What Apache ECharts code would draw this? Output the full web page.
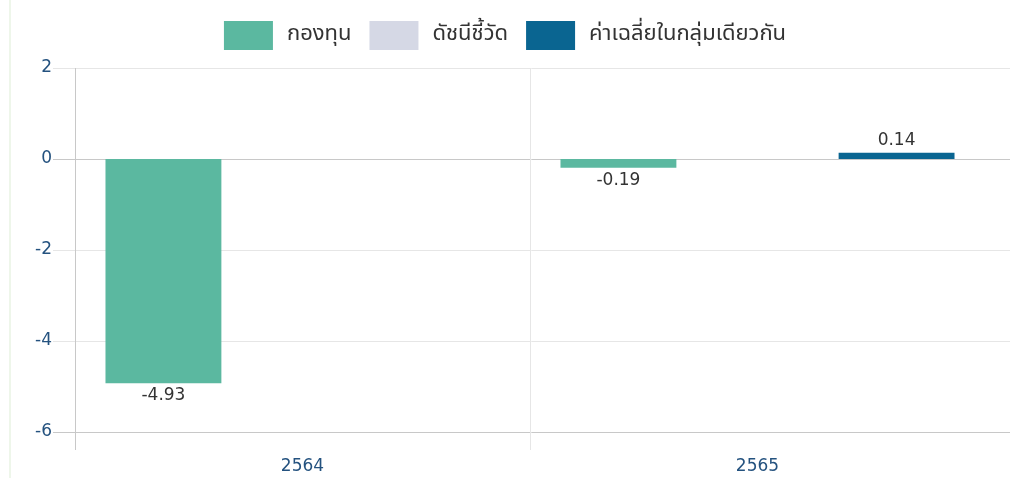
<!DOCTYPE html>
<html>
<head>
<meta charset="utf-8">
<script src="https://cdn.jsdelivr.net/npm/echarts@6/dist/echarts.min.js"></script>
<style>
html,body{margin:0;padding:0;background:#fff;}
#chart{width:1010px;height:478px;}
</style>
</head>
<body>
<div id="chart"></div>
<script>
const categories = ['2564', '2565'];
const seriesNames = ['กองทุน', 'ดัชนีชี้วัด', 'ค่าเฉลี่ยในกลุ่มเดียวกัน'];
const fundValues = [-4.93, -0.19];
const indexValues = [null, null];
const peerValues = [null, 0.14];
const yTicks = [-6, -4, -2, 0, 2];

const colors = ['#5BB8A0', '#D5D8E5', '#0A6591'];
const thaiFont = 'Tahoma, "Noto Sans Thai", "Noto Sans", "DejaVu Sans", sans-serif';
const numFont = '"DejaVu Sans", "Noto Sans", sans-serif';

const chart = echarts.init(document.getElementById('chart'));
const valueLabel = {
  show: true,
  color: '#333',
  fontSize: 17,
  fontFamily: numFont,
  distance: 4,
  position: 'outside',
  formatter: p => (p.value == null ? '' : Number(p.value).toFixed(2))
};

chart.setOption({
  animation: false,
  color: colors,
  graphic: [{
    type: 'rect', left: 9, top: 0,
    shape: { width: 2, height: 478 },
    style: { fill: '#EEF6EA' }, silent: true
  }],
  legend: {
    top: 16,
    left: 'center',
    itemWidth: 49,
    itemHeight: 29,
    itemGap: 18,
    icon: 'rect',
    data: seriesNames,
    textStyle: { color: '#333', fontSize: 22, fontFamily: thaiFont, padding: [0, 0, 0, 9] }
  },
  grid: [
    { left: 75, right: 25, top: 68, bottom: 46 },
    { left: 75, right: 25, top: 68, bottom: 28 },
    { left: 53, right: -10, top: 68, bottom: 46 }
  ],
  xAxis: [
    {
      gridIndex: 0, type: 'category', data: categories,
      axisLine: { show: false }, axisTick: { show: false }, splitLine: { show: false },
      axisLabel: { color: '#24527F', fontSize: 17, fontFamily: numFont, margin: 26 }
    },
    {
      gridIndex: 1, type: 'category', data: categories,
      axisLine: { show: false }, axisTick: { show: false }, axisLabel: { show: false },
      splitLine: { show: true, lineStyle: { color: ['#C8C8C8', '#E6E6E6', 'rgba(0,0,0,0)'], width: 1 } }
    },
    {
      gridIndex: 2, type: 'value', min: 0, max: 1, show: false
    }
  ],
  yAxis: [
    {
      gridIndex: 0, type: 'value', min: -6, max: 2, interval: 2,
      axisLine: { show: false }, axisTick: { show: false }, splitLine: { show: false },
      axisLabel: { color: '#24527F', fontSize: 17, fontFamily: numFont, margin: 23 }
    },
    {
      gridIndex: 1, type: 'value', min: 0, max: 1, show: false
    },
    {
      gridIndex: 2, type: 'value', min: -6, max: 2, interval: 2,
      axisLine: { show: false }, axisTick: { show: false }, axisLabel: { show: false },
      splitLine: { show: true, lineStyle: { color: ['#C8C8C8', '#E6E6E6', '#E6E6E6', '#C8C8C8', '#E6E6E6'], width: 1 } }
    }
  ],
  series: [
    {
      name: seriesNames[0], type: 'bar', data: fundValues, xAxisIndex: 0, yAxisIndex: 0,
      barCategoryGap: '13.4%', barGap: '20%', z: 5,
      label: valueLabel
    },
    {
      name: seriesNames[1], type: 'bar', data: indexValues, xAxisIndex: 0, yAxisIndex: 0,
      barCategoryGap: '13.4%', barGap: '20%', z: 5,
      label: valueLabel
    },
    {
      name: seriesNames[2], type: 'bar', data: peerValues, xAxisIndex: 0, yAxisIndex: 0,
      barCategoryGap: '13.4%', barGap: '20%', z: 5,
      label: valueLabel
    }
  ]
});
</script>
</body>
</html>
